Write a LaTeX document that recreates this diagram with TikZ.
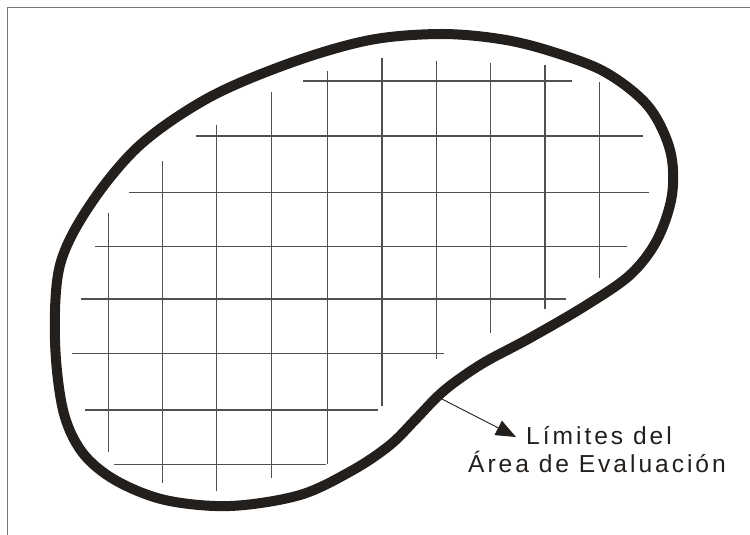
\documentclass[tikz,border=0pt]{standalone}
\usepackage{fontspec}
\setmainfont{Liberation Sans}
\newfontfamily\labfont[LetterSpace=12]{Liberation Sans}
\usetikzlibrary{arrows.meta}
\definecolor{outline}{RGB}{35,31,28}
\definecolor{gridc}{RGB}{80,80,80}
\definecolor{framec}{RGB}{120,120,120}
\tikzset{
  gridline/.style={draw=gridc, line width=1.25pt},
  blob/.style={draw=outline, line width=10pt},
  frameline/.style={draw=framec, line width=1.6pt},
  pointer/.style={draw=outline, line width=0.9pt, -{Triangle[length=20pt,width=16pt]}},
  lab/.style={font=\labfont\fontsize{24.6}{29}\selectfont, text=outline, inner sep=0pt, anchor=base}
}
\begin{document}
\begin{tikzpicture}[x=1pt,y=-1pt]
\useasboundingbox (0,0) rectangle (750,535);
% frame (top and left)
\draw[frameline] (7.5,535) -- (7.5,7.5) -- (750,7.5);
% horizontal grid lines
\foreach \y/\a/\b in {81/303/572, 136/196/643, 192.5/129/649, 246.7/95/627, 299/81/566, 353.3/72/444, 410/85/378, 464.3/114/326}
  \draw[gridline] (\a,\y) -- (\b,\y);
% vertical grid lines
\foreach \x/\a/\b in {108.3/213/452, 162.3/161/483, 216.7/125/491, 271.3/92/478, 327.5/71/464, 382/58/406, 436.3/61/359, 490.3/63/333, 545/65/309, 599.3/82/278}
  \draw[gridline] (\x,\a) -- (\x,\b);
% boundary
\draw[blob] plot[smooth cycle, tension=0.55] coordinates {
 (440,34) (500,39) (550,51) (605,72) (648,106) (670,150) (672,195) (657,240)
 (630,275) (585,306) (530,338) (485,362) (455,382) (437,397) (415,420) (390,445)
 (353,470) (300,495) (230,506) (165,500) (115,480) (82,452) (63,410) (55,340)
 (60,265) (90,205) (140,145) (210,97) (293,62) (370,40)};
% label
\node[lab] (l1) at (599,444) {Límites del};
\node[lab] (l2) at (597,472.7) {Área de Evaluación};
\coordinate (src) at (438,397);
\coordinate (tip) at (516,437);
\draw[pointer] (src) -- (tip);
\end{tikzpicture}
\end{document}
